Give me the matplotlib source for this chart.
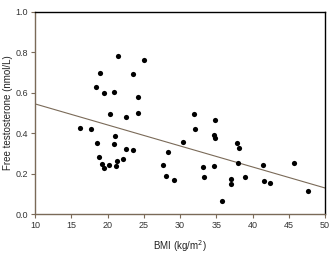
import matplotlib
matplotlib.use("Agg")
import matplotlib.pyplot as plt

plt.rcParams['font.family'] = ['Liberation Sans', 'DejaVu Sans']

bmi = [21.41, 25.03, 19.01, 23.48, 18.37, 19.52, 20.86, 24.17, 20.39, 22.59,
       24.25, 16.21, 17.77, 21.03, 18.55, 20.90, 22.51, 23.52, 18.83, 19.20,
       19.50, 20.17, 21.31, 21.17, 22.17, 31.93, 34.83, 32.03, 34.73, 34.83,
       30.46, 37.82, 38.14, 28.30, 37.96, 27.70, 33.21, 34.69, 28.07, 29.17,
       33.27, 36.99, 36.99, 38.97, 35.75, 41.45, 45.72, 41.61, 42.37, 47.70]
free_t = [0.780, 0.762, 0.699, 0.694, 0.627, 0.599, 0.602, 0.579, 0.495, 0.480,
          0.500, 0.427, 0.419, 0.385, 0.352, 0.347, 0.320, 0.316, 0.284, 0.250,
          0.230, 0.241, 0.262, 0.238, 0.274, 0.494, 0.465, 0.421, 0.391, 0.377,
          0.357, 0.353, 0.327, 0.306, 0.255, 0.245, 0.233, 0.238, 0.189, 0.169,
          0.183, 0.172, 0.150, 0.183, 0.064, 0.245, 0.253, 0.166, 0.154, 0.116]
fit_x = [10, 50]
fit_y = [0.545, 0.130]

x_ticks = [10, 15, 20, 25, 30, 35, 40, 45, 50]
y_ticks = [0.0, 0.2, 0.4, 0.6, 0.8, 1.0]

brown = '#7a6a58'
fig = plt.figure(figsize=(3.3, 2.61), dpi=100)
ax = fig.add_axes([35/330, 1-214.3/261, 290/330, (214.3-11.7)/261])

ax.scatter(bmi, free_t, s=14, color='black', zorder=3, linewidths=0)
ax.plot(fit_x, fit_y, color=brown, lw=0.8, zorder=2)

ax.set_xlim(10, 50)
ax.set_ylim(0, 1.0)
ax.set_xticks(x_ticks)
ax.set_xticklabels([str(t) for t in x_ticks])
ax.set_yticks(y_ticks)
ax.set_yticklabels([f"{t:.1f}" for t in y_ticks])

for s in ['left', 'bottom']:
    ax.spines[s].set_color(brown)
    ax.spines[s].set_linewidth(1.0)
for s in ['top', 'right']:
    ax.spines[s].set_color('black')
    ax.spines[s].set_linewidth(1.0)

ax.tick_params(axis='both', direction='out', length=3, width=0.8, color=brown,
               labelsize=6.5, labelcolor='#333333', pad=2)

ax.set_xlabel('BMI (kg/m$^2$)', fontsize=7, color='#222222', labelpad=6)
ax.set_ylabel('Free testosterone (nmol/L)', fontsize=7, color='#222222', labelpad=2)

fig.savefig('out.png', dpi=100)
